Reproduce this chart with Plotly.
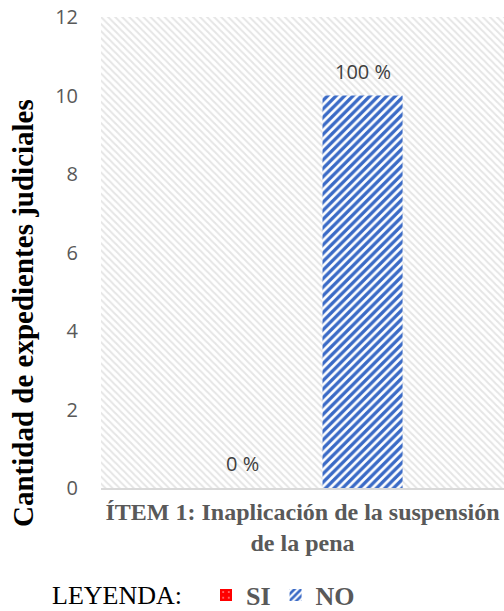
import plotly.graph_objects as go

# Chart data
categories = ["ÍTEM 1: Inaplicación de la suspensión<br>de la pena"]
series_names = ["SI", "NO"]
si_values = [0]
no_values = [10]
si_labels = ["0 %"]
no_labels = ["100 %"]
y_ticks = [0, 2, 4, 6, 8, 10, 12]

W, H = 504, 611
ML, MR, MT, MB = 101, 0, 17, 123
PW, PH = W - ML - MR, H - MT - MB


def px_x(px):
    return (px - ML) / PW


def px_y(py):
    return (H - MB - py) / PH


GRAY_TXT = "#595959"
LABEL_TXT = "#404040"
BAR_SHIFT = 60  # horizontal offset (px) of each bar from the category centre

fig = go.Figure()

# Hatched plot-area backdrop (drawn on the main, hidden x axis)
fig.add_trace(go.Bar(
    x=[0.5], y=[max(y_ticks)], width=[1], xaxis="x", yaxis="y",
    marker=dict(color="white", line=dict(width=0),
                pattern=dict(shape="\\", fgcolor="#cccccc", bgcolor="white",
                             size=5, solidity=0.4)),
    showlegend=False, hoverinfo="skip",
))

fig.add_trace(go.Bar(
    name=series_names[0], x=categories, y=si_values, xaxis="x2", yaxis="y",
    marker=dict(color="#ff0000", line=dict(width=0),
                pattern=dict(shape=".", fgcolor="white", bgcolor="#ff0000",
                             size=7, solidity=0.1)),
))

fig.add_trace(go.Bar(
    name=series_names[1], x=categories, y=no_values, xaxis="x2", yaxis="y",
    marker=dict(color="#4472c4", line=dict(width=0),
                pattern=dict(shape="/", fgcolor="#3a6ac6", bgcolor="white",
                             fgopacity=1, size=6, solidity=0.55)),
))

# Percentage labels above each bar
annotations = []
for vals, labels, shift in ((si_values, si_labels, -BAR_SHIFT),
                            (no_values, no_labels, BAR_SHIFT)):
    for cat, v, lab in zip(categories, vals, labels):
        annotations.append(dict(
            x=cat, y=v, xref="x2", yref="y", text=lab, showarrow=False,
            xshift=shift, yshift=9, yanchor="bottom", xanchor="center",
            font=dict(family="Open Sans", size=20, color=LABEL_TXT)))

annotations += [
    dict(text="Cantidad de expedientes judiciales", textangle=-90,
         xref="paper", yref="paper", x=px_x(23), y=px_y(313),
         xanchor="center", yanchor="middle", showarrow=False,
         font=dict(family="Liberation Serif", size=29, color="black",
                   weight="bold")),
    dict(text="LEYENDA:", xref="paper", yref="paper",
         x=px_x(50), y=px_y(595), xanchor="left", yanchor="middle",
         showarrow=False,
         font=dict(family="Liberation Serif", size=26, color="black")),
]

fig.update_layout(
    width=W, height=H,
    margin=dict(l=ML, r=MR, t=MT, b=MB, autoexpand=False),
    paper_bgcolor="white", plot_bgcolor="white",
    barmode="group", bargap=0.404, bargroupgap=1 / 3,
    xaxis=dict(range=[0, 1], visible=False, fixedrange=True),
    xaxis2=dict(overlaying="x", anchor="y", side="bottom", type="category",
                showline=True, linecolor="#d9d9d9", linewidth=2,
                showgrid=False, ticks="", ticklabelstandoff=1,
                tickfont=dict(family="Liberation Serif", size=24,
                              color=GRAY_TXT, weight="bold")),
    yaxis=dict(range=[0, 12], tickvals=y_ticks, showgrid=False,
               zeroline=False, showline=False, ticks="",
               ticklabelstandoff=22,
               tickfont=dict(family="Open Sans", size=20, color=GRAY_TXT)),
    legend=dict(orientation="h", x=px_x(206), y=px_y(595),
                xanchor="left", yanchor="middle",
                font=dict(family="Liberation Serif", size=26,
                          color=GRAY_TXT, weight="bold"),
                itemwidth=30, tracegroupgap=0),
    showlegend=True,
    annotations=annotations,
)

fig.write_html("out.html")
